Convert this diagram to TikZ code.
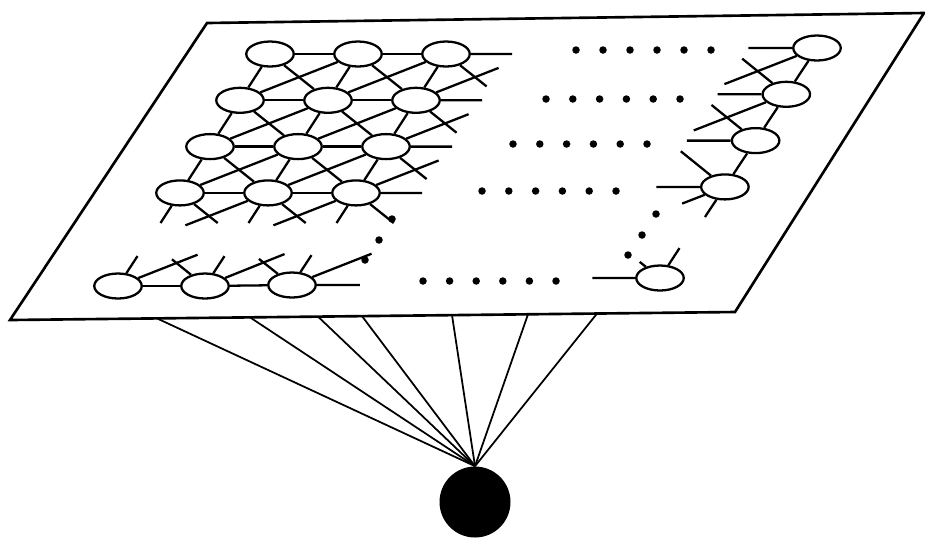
\documentclass[tikz,border=0pt]{standalone}
\usepackage{tikz}
\usetikzlibrary{shapes.geometric, calc}

\tikzset{
  unit/.style={ellipse, draw, fill=white, line width=1.3pt, minimum width=0.95cm, minimum height=0.5cm, inner sep=0pt},
  link/.style={line width=1.3pt},
  ray/.style={line width=1pt},
  sheet/.style={line width=1.5pt, fill=white, line join=miter},
  inball/.style={circle, fill=black, minimum size=1.42cm, inner sep=0pt},
}
% short link from a unit towards a unit that is not drawn
\newcommand{\linkstub}[3][0.7]{\draw[link] (#2) -- ($(#2)!#1!(#3)$);}

\begin{document}
\begin{tikzpicture}[x={(0.02cm,0)}, y={(0,-0.02cm)}]
  \useasboundingbox (0,0) rectangle (925,539);
  % Map plane
  \coordinate (pl-tl) at (207,23);
  \coordinate (pl-tr) at (924,13);
  \coordinate (pl-br) at (735,312);
  \coordinate (pl-bl) at (10,320);
  \draw[sheet] (pl-tl) -- (pl-tr) -- (pl-br) -- (pl-bl) -- cycle;

  % Input unit, linked to the plane
  \node[inball] (in) at (475,502) {};
  \foreach \x [count=\k] in {157,250,318,362,452,528,597}
    \coordinate (t-\k) at ({\x},{320-8*(\x-10)/725});
  \foreach \k in {1,...,7}
    \draw[ray] (in.north) -- (t-\k);

  % Main block: 4 rows x 3 columns, row 4 and column 3 only as ghosts
  \foreach \i in {0,...,3} {
    \foreach \j in {0,1,2}
      \node[unit] (g-\i-\j) at ({270+88*\j-30*\i},{54+46.3*\i}) {};
    \coordinate (g-\i-3) at ({270+88*3-30*\i},{54+46.3*\i});
  }
  \foreach \j in {0,...,3}
    \coordinate (g-4-\j) at ({270+88*\j-30*4},{54+46.3*4});
  % horizontal links
  \foreach \i in {0,...,3} {
    \foreach \j/\k in {0/1,1/2}
      \draw[link] (g-\i-\j) -- (g-\i-\k);
    \linkstub[0.75]{g-\i-2}{g-\i-3}
  }
  % down-left links
  \foreach \i/\n in {0/1,1/2,2/3}
    \foreach \j in {0,1,2}
      \draw[link] (g-\i-\j) -- (g-\n-\j);
  \foreach \j in {0,1,2} {\linkstub[0.65]{g-3-\j}{g-4-\j}}
  % down-right links
  \foreach \i/\n in {0/1,1/2,2/3} {
    \foreach \j/\k in {0/1,1/2}
      \draw[link] (g-\i-\j) -- (g-\n-\k);
    \linkstub{g-\i-2}{g-\n-3}
  }
  \foreach \j/\k in {0/1,1/2,2/3} {\linkstub[0.65]{g-3-\j}{g-4-\k}}
  % shallow links
  \foreach \i/\n in {0/1,1/2,2/3} {
    \foreach \j/\k in {0/1,1/2}
      \draw[link] (g-\n-\j) -- (g-\i-\k);
    \linkstub{g-\n-2}{g-\i-3}
  }
  \foreach \j/\k in {0/1,1/2} {\linkstub{g-3-\k}{g-4-\j}}

  % Bottom row
  \foreach \j/\y in {0/286,1/286,2/285} {
    \node[unit] (b-\j) at ({118+87*\j},\y) {};
    \coordinate (u-\j) at ({148+87*\j},{\y-46});
  }
  \coordinate (u-3) at (409,239);
  \coordinate (b-3) at (379,285);
  \draw[link] (b-0) -- (b-1);
  \draw[link] (b-1) -- (b-2);
  \linkstub[0.78]{b-2}{b-3}
  \foreach \j/\k in {0/1,1/2,2/3} {
    \linkstub[0.65]{b-\j}{u-\j}
    \linkstub[0.68]{b-\j}{u-\k}
  }
  \foreach \j/\k in {0/1,1/2} {\linkstub[0.58]{b-\k}{u-\j}}

  % Right column
  \foreach \i in {0,...,3} {
    \node[unit] (r-\i) at ({817-30.7*\i},{48+46.3*\i}) {};
    \coordinate (l-\i) at ({729-30.7*\i},{48+46.3*\i});
  }
  \coordinate (l-4) at ({729-30.7*4},{48+46.3*4});
  \coordinate (r-4) at ({817-30.7*4},{48+46.3*4});
  \foreach \i/\n in {0/1,1/2,2/3} {
    \draw[link] (r-\i) -- (r-\n);
    \linkstub[0.77]{r-\n}{l-\i}
  }
  \foreach \i in {0,...,3} {\linkstub[0.78]{r-\i}{l-\i}}
  \linkstub[0.78]{r-0}{l-1}
  \linkstub[0.78]{r-1}{l-2}
  \linkstub[0.36]{r-3}{l-4}
  \linkstub[0.65]{r-3}{r-4}

  % Bottom right corner unit
  \node[unit] (c) at (660,278) {};
  \coordinate (c-l) at (572,278);
  \coordinate (c-u) at (690,232);
  \coordinate (c-ul) at (602,232);
  \linkstub[0.77]{c}{c-l}
  \linkstub[0.65]{c}{c-u}
  \linkstub[0.35]{c}{c-ul}

  % Dots for the units left out
  \foreach \y/\x/\d in {50/576/27, 99/546/26.8, 144/513/26.8, 191/482/26.8, 281/423/26.6}
    \foreach \k in {0,...,5}
      \fill ({\x+\d*\k},\y) circle[radius=0.075cm];
  \foreach \p in {(392,219),(379,240),(365,260),(656,214),(642,235),(628,255)}
    \fill \p circle[radius=0.075cm];
\end{tikzpicture}
\end{document}
